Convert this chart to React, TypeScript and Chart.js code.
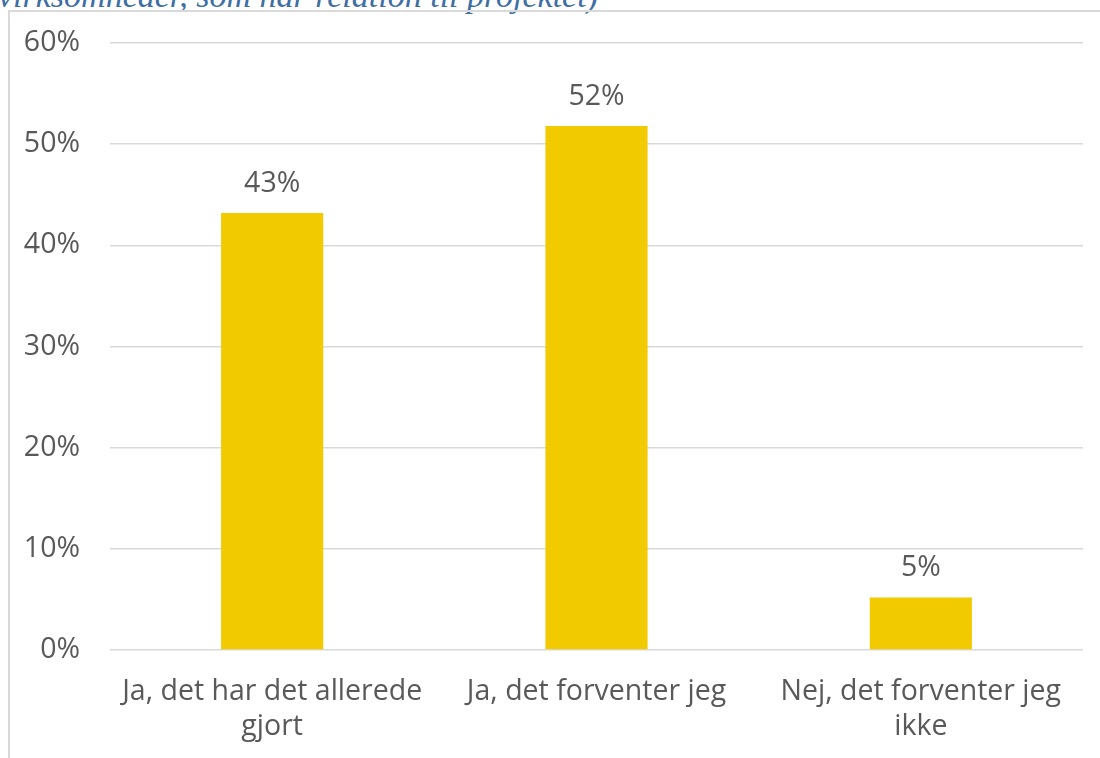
import React, { useEffect, useRef } from "react";
import { Chart, registerables } from "chart.js";

Chart.register(...registerables);

const categories: string[][] = [
  ["Ja, det har det allerede", "gjort"],
  ["Ja, det forventer jeg"],
  ["Nej, det forventer jeg", "ikke"],
];
const values: number[] = [43.2, 51.8, 5.2];
const valueLabels: string[] = ["43%", "52%", "5%"];
const yTicks: number[] = [0, 10, 20, 30, 40, 50, 60];
const titleText = "virksomheder, som har relation til projektet)";

const FONT = "'Open Sans', sans-serif";
const TEXT = "#595959";
const FS = 28.5;

const labelPlugin = {
  id: "barLabels",
  afterDatasetsDraw(chart: any) {
    const ctx = chart.ctx;
    const meta = chart.getDatasetMeta(0);
    ctx.save();
    ctx.fillStyle = TEXT;
    ctx.font = `${FS}px ${FONT}`;
    ctx.textAlign = "center";
    ctx.textBaseline = "alphabetic";
    meta.data.forEach((bar: any, i: number) => {
      ctx.fillText(valueLabels[i], bar.x, bar.y - 21);
    });
    ctx.restore();
  },
};

export default function App() {
  const ref = useRef<HTMLCanvasElement>(null);
  useEffect(() => {
    if (!ref.current) return;
    const chart = new Chart(ref.current, {
      type: "bar",
      data: {
        labels: categories,
        datasets: [
          {
            data: values,
            backgroundColor: "#f2ca00",
            barPercentage: 0.315,
            categoryPercentage: 1,
          },
        ],
      },
      options: {
        animation: false,
        responsive: false,
        maintainAspectRatio: false,
        devicePixelRatio: 1,
        layout: { padding: { top: 43, right: 17, left: 0, bottom: 0 } },
        plugins: { legend: { display: false }, tooltip: { enabled: false }, title: { display: false } },
        scales: {
          x: {
            grid: { display: false, drawTicks: false },
            border: { display: false },
            ticks: {
              color: TEXT,
              font: { family: FONT, size: FS, lineHeight: 1.21 },
              padding: 25,
              maxRotation: 0,
              autoSkip: false,
            },
            afterFit: (s: any) => {
              s.height = 108;
            },
          },
          y: {
            min: 0,
            max: 60,
            afterBuildTicks: (s: any) => {
              s.ticks = yTicks.map((v) => ({ value: v }));
            },
            grid: { color: "#d9d9d9", lineWidth: 1.5, drawTicks: true, tickLength: 30, tickColor: "rgba(0,0,0,0)" },
            border: { display: false },
            ticks: {
              color: TEXT,
              font: { family: FONT, size: FS },
              padding: 0,
              callback: (v: any) => `${v}%`,
            },
            afterFit: (s: any) => {
              s.width = 110;
            },
          },
        },
      },
      plugins: [labelPlugin],
    });
    return () => chart.destroy();
  }, []);

  return (
    <div style={{ position: "fixed", left: 0, top: 0, width: 1100, height: 758, overflow: "hidden", background: "#fff" }}>
      <div
        style={{
          position: "absolute",
          left: -2,
          top: -24,
          whiteSpace: "nowrap",
          fontFamily: "'Liberation Serif', serif",
          fontStyle: "italic",
          fontSize: 34,
          lineHeight: "40px",
          color: "#3e6ea3",
        }}
      >
        {titleText}
      </div>
      <div
        style={{
          position: "absolute",
          left: 8,
          top: 10,
          width: 1200,
          height: 900,
          borderLeft: "2px solid #d9d9d9",
          borderTop: "2px solid #d9d9d9",
        }}
      />
      <canvas ref={ref} width={1100} height={758} style={{ position: "absolute", left: 0, top: 0, width: 1100, height: 758 }} />
    </div>
  );
}
